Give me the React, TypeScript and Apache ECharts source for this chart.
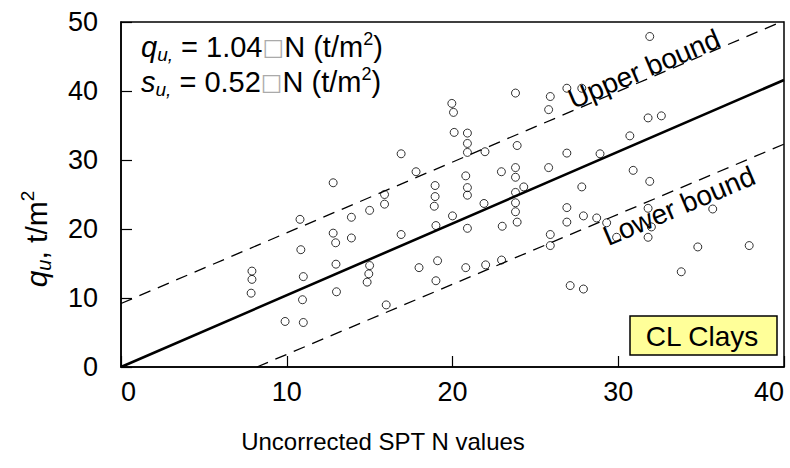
import React, { useEffect, useRef } from "react";
import * as echarts from "echarts";

// Uncorrected SPT N values of each test
const sptN = [
  7.9, 7.9, 7.85, 9.9,
  10.8, 10.85, 11.0, 10.95, 11.0,
  12.8, 12.8, 12.95, 12.97, 13.0,
  13.9, 13.9,
  15.0, 15.0, 14.95, 14.85,
  15.9, 15.9, 16.0,
  16.9, 16.9, 17.8, 17.98,
  18.95, 18.95, 18.9, 19.0, 19.1, 19.0,
  19.96, 20.06, 20.1, 20.0,
  20.9, 20.9, 20.9, 20.8, 20.9, 20.9, 20.9, 20.8,
  21.96, 21.9, 22.0,
  22.95, 23.0, 22.96,
  23.8, 23.9, 23.8, 23.8, 24.3, 23.8, 23.8, 23.8, 23.9,
  25.9, 25.8, 25.8, 25.9, 25.9,
  26.9, 26.9, 26.9, 26.9, 27.1,
  27.8, 27.8, 27.9, 27.9,
  28.7, 28.9, 29.3, 29.9,
  30.7, 30.9,
  31.9, 31.8, 32.6, 31.9, 31.8, 32.0, 31.8,
  33.8, 34.8, 35.7, 37.9,
];
// Unconfined compressive strength q_u (t/m²) of each test
const quValues = [
  13.9, 12.7, 10.7, 6.6,
  21.4, 17.0, 13.1, 9.75, 6.45,
  26.7, 19.4, 18.0, 14.9, 10.9,
  21.7, 18.7,
  22.7, 14.7, 13.5, 12.3,
  25.0, 23.6, 9.0,
  30.9, 19.2, 28.3, 14.4,
  26.3, 24.7, 23.3, 20.5, 15.4, 12.5,
  38.2, 36.9, 34.0, 21.9,
  33.9, 32.4, 31.1, 27.7, 26.0, 24.9, 20.1, 14.4,
  31.2, 23.7, 14.8,
  28.3, 20.4, 15.5,
  39.7, 32.1, 28.9, 27.5, 26.1, 25.3, 23.8, 22.5, 21.0,
  39.2, 37.3, 28.9, 19.2, 17.6,
  40.4, 31.0, 23.1, 21.0, 11.8,
  40.4, 26.1, 21.9, 11.3,
  21.6, 30.9, 20.9, 18.8,
  33.5, 28.5,
  47.9, 36.1, 36.4, 26.9, 23.0, 20.3, 18.8,
  13.8, 17.4, 22.9, 17.6,
];

// q_u = 1.04 N
const fitSlope = 1.04;
const fitN = [0, 40];
// bounds (N, q_u) end points
const upperBoundN = [0, 40];
const upperBoundQ = [9.2, 50.2];
const lowerBoundN = [8.2, 40];
const lowerBoundQ = [0, 32.3];

const xTickValues = [0, 10, 20, 30, 40];
const yTickValues = [0, 10, 20, 30, 40, 50];

const FONT = "'Liberation Sans', Arial, Helvetica, sans-serif";

export default function App() {
  const ref = useRef<HTMLDivElement>(null);

  useEffect(() => {
    if (!ref.current) return;
    const chart = echarts.init(ref.current, undefined, { renderer: "svg" });

    const points = sptN.map((n, i) => [n, quValues[i]]);
    const fitLine = fitN.map((n) => [n, fitSlope * n]);
    const upperLine = upperBoundN.map((n, i) => [n, upperBoundQ[i]]);
    const lowerLine = lowerBoundN.map((n, i) => [n, lowerBoundQ[i]]);

    const angle = Math.atan((1.02 * 6.9) / 16.6);

    const formulaRich = {
      it: { fontSize: 29, fontStyle: "italic", fontFamily: FONT, lineHeight: 34, fill: "#000" },
      sub: { fontSize: 19, fontStyle: "italic", fontFamily: FONT, lineHeight: 17, verticalAlign: "bottom", fill: "#000" },
      n: { fontSize: 29, fontFamily: FONT, lineHeight: 34, fill: "#000" },
      box: { fontSize: 23, fontFamily: "'DejaVu Sans', sans-serif", lineHeight: 34, fill: "#aaa" },
      sup: { fontSize: 18, fontFamily: FONT, lineHeight: 15, verticalAlign: "top", fill: "#000" },
    };

    chart.setOption({
      animation: false,
      grid: {
        left: 121,
        top: 22,
        right: 6,
        bottom: 101,
        show: true,
        borderColor: "#000",
        borderWidth: 1.5,
        backgroundColor: "transparent",
      },
      xAxis: {
        type: "value",
        min: xTickValues[0],
        max: xTickValues[xTickValues.length - 1],
        interval: 10,
        axisLine: { show: true, onZero: false, lineStyle: { color: "#000", width: 1.5 } },
        axisTick: { show: true, inside: true, length: 11, lineStyle: { color: "#000", width: 1.2 } },
        splitLine: { show: false },
        axisLabel: {
          color: "#000",
          fontSize: 27,
          fontFamily: FONT,
          margin: 11,
          alignMinLabel: "left",
          alignMaxLabel: "right",
        },
      },
      yAxis: {
        type: "value",
        min: yTickValues[0],
        max: yTickValues[yTickValues.length - 1],
        interval: 10,
        axisLine: { show: true, onZero: false, lineStyle: { color: "#000", width: 1.5 } },
        axisTick: { show: true, inside: true, length: 11, lineStyle: { color: "#000", width: 1.2 } },
        splitLine: { show: false },
        axisLabel: { color: "#000", fontSize: 27, fontFamily: FONT, margin: 23 },
      },
      series: [
        {
          type: "line",
          data: fitLine,
          showSymbol: false,
          symbol: "none",
          lineStyle: { color: "#000", width: 2.6 },
          clip: true,
          z: 3,
        },
        {
          type: "line",
          data: upperLine,
          symbol: "none",
          lineStyle: { color: "#000", width: 1.3, type: [12, 8] },
          clip: true,
          z: 3,
        },
        {
          type: "line",
          data: lowerLine,
          symbol: "none",
          lineStyle: { color: "#000", width: 1.3, type: [12, 8] },
          clip: true,
          z: 3,
        },
        {
          type: "scatter",
          data: points,
          symbol: "circle",
          symbolSize: 8,
          itemStyle: { color: "rgba(0,0,0,0)", borderColor: "#000", borderWidth: 1 },
          z: 4,
        },
      ],
      graphic: [
        {
          type: "text",
          left: 141,
          top: 30,
          z: 10,
          style: {
            text: "{it|q}{sub|u,}{n| = 1.04}{box|□}{n|N (t/m}{sup|2}{n|)}",
            rich: formulaRich,
          },
        },
        {
          type: "text",
          left: 141,
          top: 65,
          z: 10,
          style: {
            text: "{it|s}{sub|u,}{n| = 0.52}{box|□}{n|N (t/m}{sup|2}{n|)}",
            rich: formulaRich,
          },
        },
        {
          type: "text",
          x: 644,
          y: 69,
          rotation: angle,
          z: 10,
          style: {
            text: "Upper bound",
            fontSize: 28,
            fontFamily: FONT,
            fill: "#000",
            align: "center",
            verticalAlign: "middle",
          },
        },
        {
          type: "text",
          x: 679,
          y: 206,
          rotation: angle,
          z: 10,
          style: {
            text: "Lower bound",
            fontSize: 28,
            fontFamily: FONT,
            fill: "#000",
            align: "center",
            verticalAlign: "middle",
          },
        },
        {
          type: "rect",
          shape: { x: 630, y: 316, width: 147, height: 39 },
          z: 10,
          style: { fill: "#ffff99", stroke: "#000", lineWidth: 1.5 },
        },
        {
          type: "text",
          x: 702,
          y: 336,
          z: 11,
          style: {
            text: "CL Clays",
            fontSize: 28,
            fontFamily: FONT,
            fill: "#000",
            align: "center",
            verticalAlign: "middle",
          },
        },
        {
          type: "text",
          x: 383,
          y: 441,
          z: 10,
          style: {
            text: "Uncorrected SPT N values",
            fontSize: 24,
            fontFamily: FONT,
            fill: "#000",
            align: "center",
            verticalAlign: "middle",
          },
        },
        {
          type: "text",
          x: 36,
          y: 239,
          rotation: Math.PI / 2,
          z: 10,
          style: {
            text: "{it|q}{sub|u}{n|, t/m}{sup|2}",
            align: "center",
            verticalAlign: "middle",
            rich: {
              it: { fontSize: 30, fontStyle: "italic", fontFamily: FONT, lineHeight: 36, fill: "#000" },
              sub: { fontSize: 20, fontStyle: "italic", fontFamily: FONT, lineHeight: 18, verticalAlign: "bottom", fill: "#000" },
              n: { fontSize: 30, fontFamily: FONT, lineHeight: 36, fill: "#000" },
              sup: { fontSize: 19, fontFamily: FONT, lineHeight: 16, verticalAlign: "top", fill: "#000" },
            },
          },
        },
      ],
    });

    return () => chart.dispose();
  }, []);

  return (
    <div
      ref={ref}
      style={{ position: "fixed", left: 0, top: 0, width: 790, height: 468, background: "#fff" }}
    />
  );
}
